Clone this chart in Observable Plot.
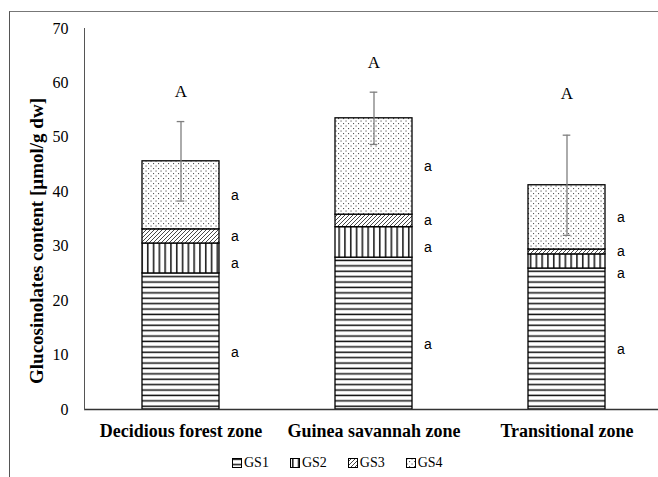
<!DOCTYPE html>
<html>
<head>
<meta charset="utf-8">
<script src="https://cdn.jsdelivr.net/npm/d3@7"></script>
<script src="https://cdn.jsdelivr.net/npm/@observablehq/plot@0.6"></script>
<style>
  html, body { margin: 0; padding: 0; background: #fff; }
  #wrap { position: relative; width: 658px; height: 477px; overflow: hidden; }
  #border { position: absolute; left: 9px; top: 11px; width: 700px; height: 500px;
            border-left: 1px solid #555; border-top: 1px solid #777; }
  #chart { position: absolute; left: 0; top: 0; }
  #legend { position: absolute; left: 232px; top: 455px; display: flex; align-items: center;
            font-family: "Liberation Serif", serif; font-size: 14px; color: #000; }
  #legend .item { display: flex; align-items: center; margin-right: 21px; }
  #legend svg { margin-right: 2px; }
</style>
</head>
<body>
<div id="wrap">
  <div id="border"></div>
  <div id="chart"></div>
  <div id="legend"></div>
</div>
<script>
// ---- data ----
const zones = ["Decidious forest zone", "Guinea savannah zone", "Transitional zone"];
const series = ["GS1", "GS2", "GS3", "GS4"];
const gs1 = [25.0, 27.9, 25.9];
const gs2 = [5.5, 5.6, 2.6];
const gs3 = [2.6, 2.3, 0.9];
const gs4 = [12.5, 17.7, 11.8];
const sd = [7.3, 4.8, 9.2];
const segLetters = [["a", "a", "a", "a"], ["a", "a", "a", "a"], ["a", "a", "a", "a"]];
const groupLetters = ["A", "A", "A"];
const yTicks = [0, 10, 20, 30, 40, 50, 60, 70];

// ---- derived tables ----
const values = [gs1, gs2, gs3, gs4];
const segs = [];
const totals = [];
zones.forEach((z, i) => {
  let acc = 0;
  const row = [];
  series.forEach((s, j) => {
    const v = values[j][i];
    row.push({zone: z, series: s, j, y1: acc, y2: acc + v, mid: acc + v / 2, letter: segLetters[i][j]});
    acc += v;
  });
  // label placement: keep letters apart (GS2 label kept below the GS3 label)
  row[0].ly = row[0].mid - 2;
  row[3].ly = row[3].mid;
  row[2].ly = row[2].mid;
  row[1].ly = Math.min(row[1].mid - 1, row[2].ly - 4);
  segs.push(...row);
  totals.push({zone: z, total: acc, sd: sd[i], letter: groupLetters[i]});
});
const patId = s => `url(#pat-${s})`;

const serif = "Liberation Serif, Times New Roman, serif";
const sans = "Liberation Sans, Arial, sans-serif";

const chart = Plot.plot({
  width: 658,
  height: 445,
  marginLeft: 84,
  marginRight: 0,
  marginTop: 28,
  marginBottom: 36,
  style: {fontFamily: serif, color: "#000", background: "transparent"},
  x: {domain: zones, range: [84, 664], paddingInner: 0.6, paddingOuter: 0.3},
  y: {domain: [0, 70]},
  marks: [
    Plot.axisY(yTicks, {tickSize: 0, tickPadding: 16, fontSize: 16, label: null, fontFamily: serif}),
    Plot.axisX({tickSize: 0, tickPadding: 15, fontSize: 18, fontWeight: "bold", label: null, fontFamily: serif}),
    ...series.map(s => Plot.rectY(segs.filter(d => d.series === s), {
      x: "zone", y1: "y1", y2: "y2", fill: patId(s), stroke: "#000", strokeWidth: 1.3
    })),
    Plot.ruleX(totals, {x: "zone", y1: d => d.total - d.sd, y2: d => d.total + d.sd, stroke: "#7f7f7f", strokeWidth: 1.3}),
    Plot.tickY(totals, {x: "zone", y: d => d.total + d.sd, stroke: "#7f7f7f", strokeWidth: 1.3, insetLeft: 34.7, insetRight: 34.7}),
    Plot.tickY(totals, {x: "zone", y: d => d.total - d.sd, stroke: "#7f7f7f", strokeWidth: 1.3, insetLeft: 34.7, insetRight: 34.7}),
    Plot.ruleY([0], {stroke: "#333", strokeWidth: 1.3}),
    Plot.frame({anchor: "left", stroke: "#555"}),
    Plot.text(segs, {x: "zone", y: "ly", text: "letter", dx: 54, fontSize: 14, fontFamily: sans}),
    Plot.text(totals, {x: "zone", y: d => Math.max(d.total + d.sd, 52.5) + 5.5, text: "letter", fontSize: 17, fontFamily: serif}),
    Plot.text(["Glucosinolates content [µmol/g dw]"], {frameAnchor: "left", textAnchor: "middle", rotate: -90, dx: -48, dy: 22, fontSize: 19, fontWeight: "bold", fontFamily: serif})
  ]
});

// patterns
const defs = `
<defs>
  <pattern id="pat-GS1" patternUnits="userSpaceOnUse" width="6" height="5.4">
    <rect width="6" height="5.4" fill="#fff"/><rect y="0.5" width="6" height="1.5" fill="#111"/>
  </pattern>
  <pattern id="pat-GS2" patternUnits="userSpaceOnUse" width="5.8" height="6">
    <rect width="5.8" height="6" fill="#fff"/><rect x="2" width="1.5" height="6" fill="#111"/>
  </pattern>
  <pattern id="pat-GS3" patternUnits="userSpaceOnUse" width="4" height="4">
    <rect width="4" height="4" fill="#fff"/>
    <path d="M-1,1 l2,-2 M0,4 l4,-4 M3,5 l2,-2" stroke="#333" stroke-width="0.9"/>
  </pattern>
  <pattern id="pat-GS4" patternUnits="userSpaceOnUse" width="5" height="5">
    <rect width="5" height="5" fill="#fff"/>
    <rect x="0.5" y="0.5" width="1.1" height="1.1" fill="#555"/>
    <rect x="3" y="3" width="1.1" height="1.1" fill="#555"/>
  </pattern>
</defs>`;
chart.insertAdjacentHTML("afterbegin", defs);
document.getElementById("chart").appendChild(chart);

// legend
const legend = document.getElementById("legend");
series.forEach(s => {
  const item = document.createElement("div");
  item.className = "item";
  item.innerHTML = `<svg width="10" height="10"><rect x="0.5" y="0.5" width="9" height="9" fill="${patId(s)}" stroke="#000" stroke-width="1"/></svg><span>${s}</span>`;
  legend.appendChild(item);
});
</script>
</body>
</html>
